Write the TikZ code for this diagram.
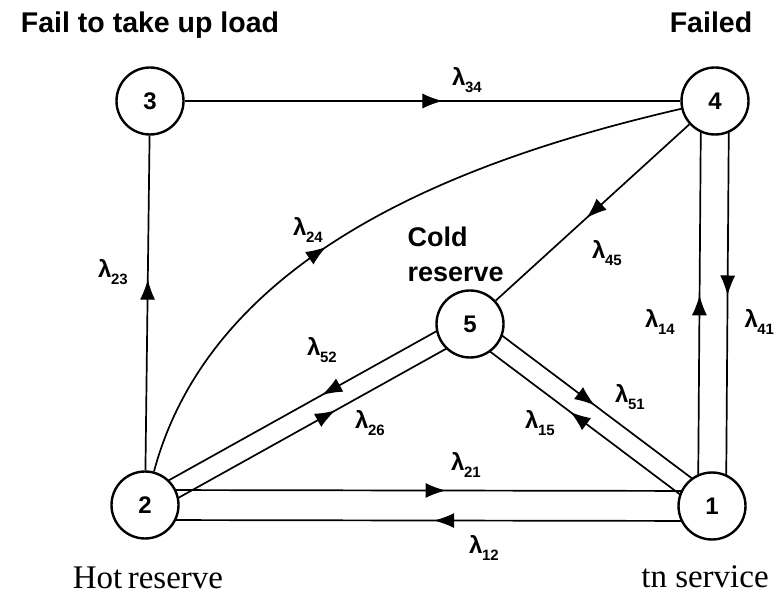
\documentclass[tikz,border=0pt]{standalone}
\usepackage{fontspec}
\setmainfont{Liberation Serif}
\newfontfamily\labfont{Liberation Sans}
\usetikzlibrary{calc,arrows.meta,decorations.markings,backgrounds}

\newcommand\lam[1]{λ\kern-0.5pt\raisebox{-0.55ex}{\fontsize{15}{15}\selectfont #1}}

\tikzset{
  state/.style={circle,draw,line width=2.4pt,fill=white,minimum size=67pt,inner sep=0pt,
    font=\labfont\bfseries\fontsize{24}{24}\selectfont},
  rate/.style={font=\labfont\bfseries\fontsize{24}{24}\selectfont},
  tag/.style={font=\labfont\bfseries\fontsize{28.5}{35}\selectfont},
  plain/.style={font=\fontsize{33}{33}\selectfont},
  flow/.style={line width=1.7pt},
  mid/.style={postaction={decorate,decoration={markings,
    mark=at position #1 with {\arrow[line width=1pt]{Latex[length=20pt,width=15pt]}}}}}
}

\begin{document}
\begin{tikzpicture}[x=1pt,y=1pt]
  \useasboundingbox (0,0) rectangle (783,594);
  % states
  \node[state] (n3) at (150,493) {3};
  \node[state] (n4) at (715,493) {4};
  \node[state] (n2) at (145,89) {2};
  \node[state] (n1) at (712,88) {1};
  \node[state] (n5) at (470,270) {5};
  % single transitions
  \begin{scope}[on background layer]
    \draw[flow,mid=0.52] (n3) -- (n4);
    \draw[flow,mid=0.57] (n2) -- (n3);
    \draw[flow,mid=0.43] (n2) to[out=75,in=193,looseness=0.9] (n4);
    \draw[flow,mid=0.53] (n4) -- (n5);
    % paired transitions
    \draw[flow,mid=0.44] ($(n5)!10pt!-90:(n2)$) -- ($(n2)!10pt!90:(n5)$);
    \draw[flow,mid=0.57] ($(n2)!10pt!-90:(n5)$) -- ($(n5)!10pt!90:(n2)$);
    \draw[flow,mid=0.49] ($(n5)!10pt!90:(n1)$) -- ($(n1)!10pt!-90:(n5)$);
    \draw[flow,mid=0.56] ($(n1)!10pt!90:(n5)$) -- ($(n5)!10pt!-90:(n1)$);
    \draw[flow,mid=0.53] ($(n2)!15pt!90:(n1)$) -- ($(n1)!15pt!-90:(n2)$);
    \draw[flow,mid=0.49] ($(n1)!15pt!90:(n2)$) -- ($(n2)!15pt!-90:(n1)$);
    \draw[flow,mid=0.52] ($(n1)!14pt!90:(n4)$) -- ($(n4)!14pt!-90:(n1)$);
    \draw[flow,mid=0.48] ($(n4)!14pt!90:(n1)$) -- ($(n1)!14pt!-90:(n4)$);
  \end{scope}
  % rates
  \node[rate] (l34) at (467,514) {\lam{34}};
  \node[rate] (l23) at (113,322) {\lam{23}};
  \node[rate] (l24) at (308,364) {\lam{24}};
  \node[rate] (l45) at (607,341) {\lam{45}};
  \node[rate] (l52) at (322,244) {\lam{52}};
  \node[rate] (l26) at (370,171) {\lam{26}};
  \node[rate] (l51) at (630,197) {\lam{51}};
  \node[rate] (l15) at (540,171) {\lam{15}};
  \node[rate] (l21) at (466,129) {\lam{21}};
  \node[rate] (l12) at (484,46)  {\lam{12}};
  \node[rate] (l14) at (660,272) {\lam{14}};
  \node[rate,anchor=west] (l41) at (741,272) {\lam{41}};
  % state names
  \node[tag,anchor=base] (t3) at (150,561) {Fail to take up load};
  \node[tag,anchor=base] (t4) at (711,561) {Failed};
  \node[tag,font=\labfont\bfseries\fontsize{27}{35}\selectfont,align=left,anchor=west] (t5) at (404,340) {Cold\\reserve};
  \node[plain,anchor=base] (t2) at (148,6) {Hot\,reserve};
  \node[plain,anchor=base] (t1) at (705,7) {tn service};
\end{tikzpicture}
\end{document}
